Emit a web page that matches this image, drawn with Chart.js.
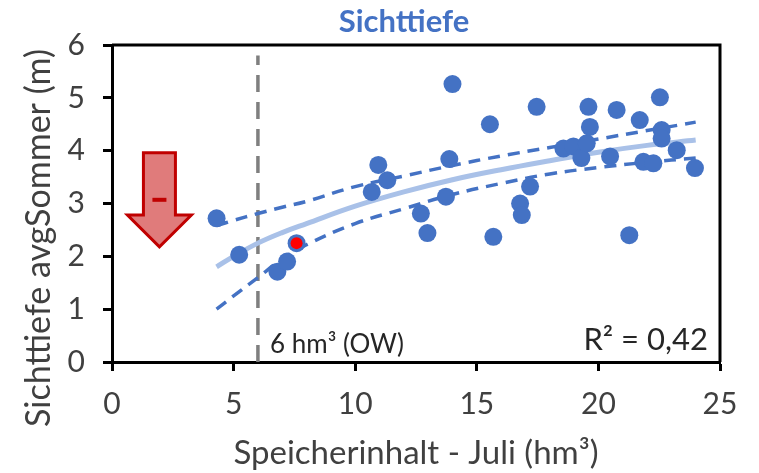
<!DOCTYPE html>
<html>
<head>
<meta charset="utf-8">
<script src="https://cdn.jsdelivr.net/npm/chart.js@4.4.1/dist/chart.umd.min.js"></script>
<style>
  body { margin: 0; background: #fff; }
  #wrap { width: 759px; height: 473px; }
</style>
</head>
<body>
<div id="wrap"><canvas id="myChart" width="759" height="473"></canvas></div>
<script>
// Messwerte: Speicherinhalt Juli (hm3) und Sichttiefe (m)
var speicherX = [4.3, 5.23, 6.8, 7.2, 7.59, 10.68, 10.95, 11.32, 12.7, 12.97, 13.73, 13.87, 14.0,
  15.54, 15.68, 16.78, 16.85, 17.19, 17.46, 18.56, 18.97, 19.3, 19.52, 19.59, 19.65, 20.48,
  20.75, 21.27, 21.7, 21.85, 22.26, 22.53, 22.6, 22.6, 23.22, 23.97];
var sichttiefeY = [2.72, 2.03, 1.71, 1.9, 2.25, 3.22, 3.73, 3.44, 2.81, 2.44, 3.13, 3.84, 5.26,
  4.5, 2.37, 3.0, 2.78, 3.32, 4.83, 4.04, 4.08, 3.86, 4.14, 4.83, 4.45, 3.89,
  4.77, 2.4, 4.58, 3.79, 3.76, 5.01, 4.39, 4.23, 4.01, 3.67];

// hervorgehobener Punkt (rot)
var rotX = [7.59];
var rotY = [2.25];

// Trendlinie und Konfidenzband
var kurveX = [4.3, 5, 6, 7, 8, 10, 12, 14, 16, 18, 20, 22, 24];
var trendY = [1.8, 2.0, 2.25, 2.45, 2.62, 2.95, 3.22, 3.45, 3.64, 3.81, 3.97, 4.1, 4.2];
var obenY = [2.58, 2.68, 2.81, 2.93, 3.04, 3.32, 3.52, 3.72, 3.9, 4.06, 4.22, 4.38, 4.54];
var untenY = [1.0, 1.25, 1.6, 1.95, 2.22, 2.62, 2.9, 3.17, 3.38, 3.56, 3.68, 3.78, 3.86];

// Schwellenwert 6 hm3 (OW)
var schwelleX = [6, 6];
var schwelleY = [0, 5.8];

var xTicks = [0, 5, 10, 15, 20, 25];
var yTicks = [0, 1, 2, 3, 4, 5, 6];

var blau = "#4472C4";
var font = "Lato, 'Open Sans', sans-serif";

function toPoints(xs, ys) {
  return xs.map(function (x, i) {
    return { x: x, y: ys[i] };
  });
}

var extras = {
  id: "extras",
  afterDraw: function (chart) {
    var ctx = chart.ctx;
    var a = chart.chartArea;
    var sx = chart.scales.x;
    var sy = chart.scales.y;
    ctx.save();

    // Rahmen
    ctx.strokeStyle = "#000";
    ctx.lineWidth = 3;
    ctx.beginPath();
    ctx.moveTo(a.left, a.top);
    ctx.lineTo(a.right, a.top);
    ctx.lineTo(a.right, a.bottom);
    ctx.stroke();

    // Titel
    ctx.fillStyle = blau;
    ctx.font = "bold 31px " + font;
    ctx.textAlign = "center";
    ctx.textBaseline = "middle";
    ctx.fillText("Sichttiefe", 404, 22);

    // y-Achsentitel
    ctx.save();
    ctx.translate(39, 238);
    ctx.rotate(-Math.PI / 2);
    ctx.fillStyle = "#404040";
    ctx.font = "34px " + font;
    ctx.fillText("Sichttiefe avgSommer (m)", 0, 0);
    ctx.restore();

    // Pfeil nach unten
    var cx = sx.getPixelForValue(1.95);
    var top = sy.getPixelForValue(3.96);
    var base = sy.getPixelForValue(2.78);
    var tip = sy.getPixelForValue(2.18);
    ctx.beginPath();
    ctx.moveTo(cx - 16, top);
    ctx.lineTo(cx + 16, top);
    ctx.lineTo(cx + 16, base);
    ctx.lineTo(cx + 32, base);
    ctx.lineTo(cx, tip);
    ctx.lineTo(cx - 32, base);
    ctx.lineTo(cx - 16, base);
    ctx.closePath();
    ctx.fillStyle = "#E07B7B";
    ctx.fill();
    ctx.strokeStyle = "#C00000";
    ctx.lineWidth = 3;
    ctx.lineJoin = "miter";
    ctx.stroke();
    ctx.fillStyle = "#C00000";
    ctx.fillRect(cx - 7, sy.getPixelForValue(3.07) - 2, 14, 4);

    // Beschriftungen
    ctx.fillStyle = "#262626";
    ctx.textBaseline = "alphabetic";
    ctx.textAlign = "left";
    ctx.font = "26px " + font;
    ctx.fillText("6 hm\u00B3 (OW)", sx.getPixelForValue(6.5), a.bottom - 9);
    ctx.textAlign = "right";
    ctx.font = "31px " + font;
    ctx.fillText("R\u00B2 = 0,42", a.right - 12, a.bottom - 12);
    ctx.restore();
  },
};

new Chart(document.getElementById("myChart"), {
  type: "scatter",
  data: {
    datasets: [
      {
        label: "rot",
        data: toPoints(rotX, rotY),
        backgroundColor: "#FF0000",
        borderWidth: 0,
        pointRadius: 6,
        order: 0,
      },
      {
        label: "Sichttiefe",
        data: toPoints(speicherX, sichttiefeY),
        backgroundColor: blau,
        borderWidth: 0,
        pointRadius: 9,
        order: 1,
      },
      {
        label: "oben",
        type: "line",
        data: toPoints(kurveX, obenY),
        borderColor: blau,
        borderWidth: 3.5,
        borderDash: [12, 8],
        pointRadius: 0,
        tension: 0.4,
        order: 2,
      },
      {
        label: "unten",
        type: "line",
        data: toPoints(kurveX, untenY),
        borderColor: blau,
        borderWidth: 3.5,
        borderDash: [12, 8],
        pointRadius: 0,
        tension: 0.4,
        order: 2,
      },
      {
        label: "Trend",
        type: "line",
        data: toPoints(kurveX, trendY),
        borderColor: "#A9C1E8",
        borderWidth: 5,
        pointRadius: 0,
        tension: 0.4,
        order: 3,
      },
      {
        label: "Schwelle",
        type: "line",
        data: toPoints(schwelleX, schwelleY),
        borderColor: "#7F7F7F",
        borderWidth: 3.5,
        borderDash: [17, 10],
        pointRadius: 0,
        order: 4,
      },
    ],
  },
  options: {
    responsive: false,
    animation: false,
    layout: { padding: { top: 45, right: 39, left: 0, bottom: 0 } },
    plugins: {
      legend: { display: false },
      tooltip: { enabled: false },
    },
    scales: {
      x: {
        type: "linear",
        min: 0,
        max: 25,
        afterFit: function (s) {
          s.height = 111;
        },
        afterBuildTicks: function (s) {
          s.ticks = xTicks.map(function (v) {
            return { value: v };
          });
        },
        border: { display: true, color: "#000", width: 3 },
        grid: { drawOnChartArea: false, drawTicks: true, tickLength: 9, tickWidth: 3, tickColor: "#000" },
        ticks: { color: "#404040", font: { family: font, size: 30 }, padding: 15 },
        title: {
          display: true,
          text: "Speicherinhalt - Juli (hm\u00B3)",
          color: "#404040",
          font: { family: font, size: 33 },
          padding: { top: 0, bottom: 0 },
        },
      },
      y: {
        type: "linear",
        min: 0,
        max: 6,
        afterFit: function (s) {
          s.width = 112;
        },
        afterBuildTicks: function (s) {
          s.ticks = yTicks.map(function (v) {
            return { value: v };
          });
        },
        border: { display: true, color: "#000", width: 3 },
        grid: { drawOnChartArea: false, drawTicks: true, tickLength: 9, tickWidth: 3, tickColor: "#000" },
        ticks: { color: "#404040", font: { family: font, size: 30 }, padding: 18 },
        title: { display: false },
      },
    },
  },
  plugins: [extras],
});
</script>
</body>
</html>
